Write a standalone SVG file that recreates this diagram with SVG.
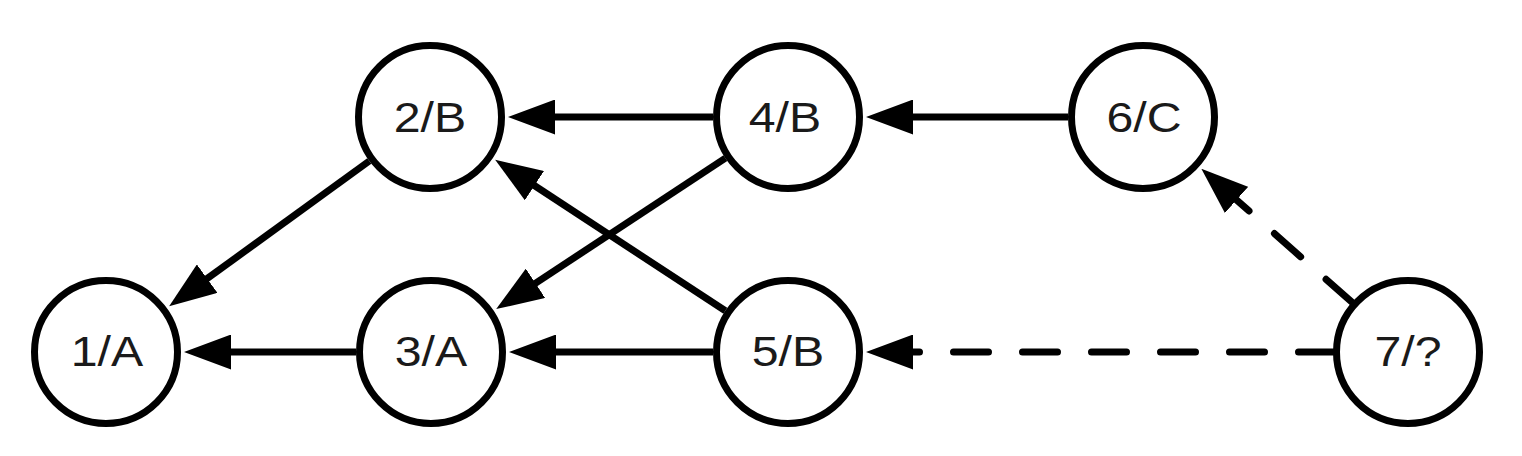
<svg xmlns="http://www.w3.org/2000/svg" width="1522" height="456" viewBox="0 0 1522 456">
<style>
.node circle{fill:#fff;stroke:#000;stroke-width:7}
.node text{font-family:"Liberation Sans",Arial,sans-serif;font-size:42px;fill:#1a1a1a;text-anchor:middle}
.edge{stroke:#000;stroke-width:7;fill:none}
.dash{stroke-dasharray:35 34;stroke-linecap:round}
</style>
<defs>
<marker id="ah" markerUnits="userSpaceOnUse" markerWidth="47" markerHeight="35" viewBox="0 0 47 35" refX="7" refY="17.5" orient="auto">
<path d="M0,0 L47,17.5 L0,35 z" fill="#000"/>
</marker>
</defs>
<rect width="1522" height="456" fill="#fff"/>
<g id="connectors">
<line class="edge" x1="356" y1="352" x2="224" y2="352" marker-end="url(#ah)"/>
<line class="edge" x1="369.3" y1="161" x2="201.5" y2="282.7" marker-end="url(#ah)"/>
<line class="edge" x1="713" y1="117" x2="548" y2="117" marker-end="url(#ah)"/>
<line class="edge" x1="725.4" y1="158.2" x2="529.6" y2="287.1" marker-end="url(#ah)"/>
<line class="edge" x1="725.3" y1="310.8" x2="528.6" y2="181.8" marker-end="url(#ah)"/>
<line class="edge" x1="713" y1="352" x2="549" y2="352" marker-end="url(#ah)"/>
<line class="edge" x1="1068" y1="117" x2="906" y2="117" marker-end="url(#ah)"/>
<line class="edge dash" x1="1336" y1="352" x2="906" y2="352" stroke-dashoffset="-2.5" marker-end="url(#ah)"/>
<line class="edge dash" x1="1351.9" y1="302.2" x2="1231.3" y2="195.3" stroke-dashoffset="0.5" marker-end="url(#ah)"/>
</g>
<g id="n1" class="node"><circle cx="106" cy="352" r="71.5"/><text transform="translate(107,366) scale(1.15,1)">1/A</text></g>
<g id="n2" class="node"><circle cx="430" cy="117" r="71.5"/><text transform="translate(430,132) scale(1.15,1)">2/B</text></g>
<g id="n3" class="node"><circle cx="431" cy="352" r="71.5"/><text transform="translate(431,366) scale(1.15,1)">3/A</text></g>
<g id="n4" class="node"><circle cx="788" cy="117" r="71.5"/><text transform="translate(785,132) scale(1.15,1)">4/B</text></g>
<g id="n5" class="node"><circle cx="788" cy="352" r="71.5"/><text transform="translate(788,366) scale(1.15,1)">5/B</text></g>
<g id="n6" class="node"><circle cx="1143" cy="117" r="71.5"/><text transform="translate(1144,132) scale(1.15,1)">6/C</text></g>
<g id="n7" class="node"><circle cx="1408" cy="352" r="71.5"/><text transform="translate(1408,366) scale(1.15,1)">7/?</text></g>
</svg>
